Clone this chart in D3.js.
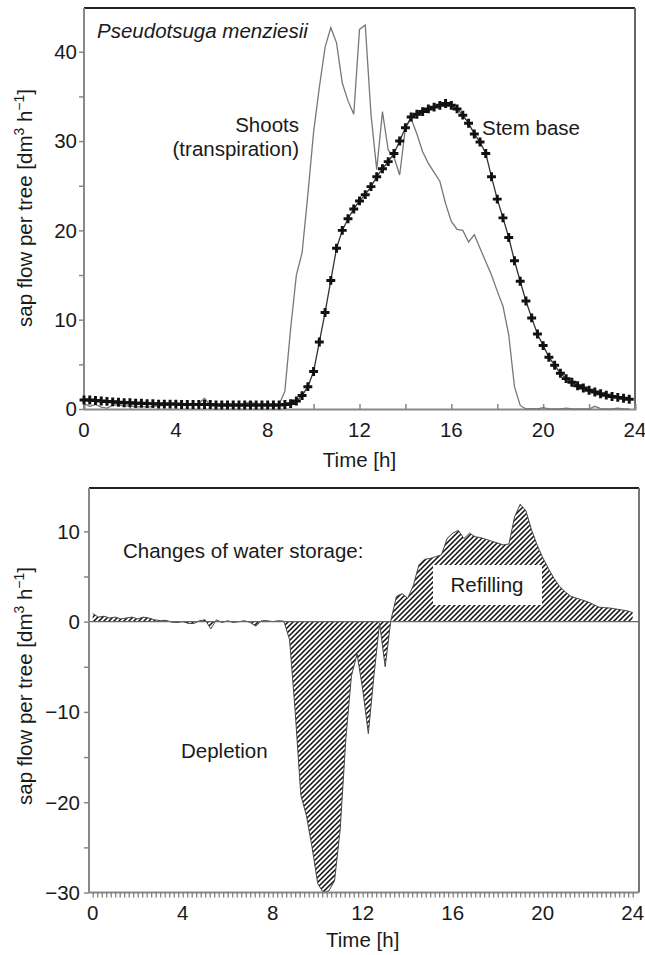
<!DOCTYPE html>
<html>
<head>
<meta charset="utf-8">
<script src="https://cdn.jsdelivr.net/npm/d3@7"></script>
<style>
  html, body { margin: 0; padding: 0; background: #fff; }
  svg text { font-family: "Liberation Sans", Arial, Helvetica, sans-serif; fill: #1a1a1a; }
</style>
</head>
<body>
<svg id="chart" width="645" height="955"></svg>
<script>
// ---------------- DATA ----------------
// sampling times (h), 15-min resolution
const timesH = [0,0.25,0.5,0.75,1,1.25,1.5,1.75,2,2.25,2.5,2.75,3,3.25,3.5,3.75,4,4.25,4.5,4.75,5,5.25,5.5,5.75,
  6,6.25,6.5,6.75,7,7.25,7.5,7.75,8,8.25,8.5,8.75,9,9.25,9.5,9.75,10,10.25,10.5,10.75,11,11.25,11.5,11.75,
  12,12.25,12.5,12.75,13,13.25,13.5,13.75,14,14.25,14.5,14.75,15,15.25,15.5,15.75,16,16.25,16.5,16.75,17,17.25,17.5,17.75,
  18,18.25,18.5,18.75,19,19.25,19.5,19.75,20,20.25,20.5,20.75,21,21.25,21.5,21.75,22,22.25,22.5,22.75,23,23.25,23.5,23.75,24];

// Shoots (transpiration), dm3 h-1 (values at timesH, up to 23.75 h)
const shootsFlow = [0.6,0.3,0.5,0.2,0.1,0.4,0.5,0.3,0.4,0.2,0.3,0.2,0.3,0.35,0.4,0.45,0.55,0.5,0.45,0.5,0.6,1.2,0.4,0.5,
  0.35,0.45,0.4,0.5,0.55,0.85,0.5,0.4,0.45,0.4,0.5,2.0,9.0,15.0,17.5,24.0,31.0,36.0,40.5,42.7,41.0,36.5,34.5,33.0,
  42.5,43.0,33.0,26.8,33.3,29.0,28.2,26.2,31.5,32.5,30.8,28.8,27.5,26.5,25.5,23.0,21.0,20.1,20.0,18.7,19.5,18.0,16.5,15.0,
  13.2,11.5,8.3,2.5,0.4,0.0,0.05,0.0,0.15,0.0,0.0,0.0,0.1,0.0,0.0,0.0,0.0,0.3,0.05,0.0,0.0,0.1,0.0,0.0];

// Stem base sap flow, dm3 h-1 (values at timesH, up to 23.75 h)
const stemBaseFlow = [1.0,1.0,0.95,0.9,0.85,0.8,0.75,0.7,0.7,0.65,0.65,0.6,0.6,0.55,0.55,0.55,0.55,0.5,0.5,0.5,0.5,0.5,0.5,0.45,
  0.45,0.45,0.45,0.45,0.45,0.45,0.45,0.45,0.45,0.45,0.45,0.5,0.6,0.9,1.5,2.5,4.2,7.5,10.8,14.4,18.0,20.0,21.3,22.4,
  23.3,24.0,24.9,26.0,26.9,27.7,28.6,30.0,31.5,32.7,33.0,33.3,33.6,33.8,34.0,34.2,34.0,33.6,32.9,32.0,30.8,29.9,28.6,26.0,
  23.5,21.4,19.2,16.6,14.3,12.1,10.2,8.4,7.1,5.8,4.9,4.0,3.4,3.0,2.6,2.35,2.1,1.9,1.7,1.55,1.4,1.3,1.2,1.1];

// Changes of water storage, dm3 h-1 (values at timesH, 0..24 h)
const storageChange = [0.9,0.5,0.6,0.4,0.5,0.3,0.4,0.5,0.3,0.5,0.4,0.2,0.1,0.15,-0.05,-0.1,0.0,-0.2,-0.2,0.1,0.2,-0.8,0.2,-0.1,
  0.1,-0.1,0.0,0.1,-0.1,-0.5,0.1,0.1,0.0,0.1,0.05,-2.0,-10.0,-19.2,-21.5,-25.0,-29.0,-30.0,-29.8,-28.7,-23.0,-13.0,-6.0,-3.6,
  -7.5,-12.4,-6.0,-0.2,-5.0,0.1,2.8,3.1,2.6,4.0,6.3,6.9,7.0,7.2,7.4,9.2,9.8,10.1,9.2,9.8,9.4,9.3,9.1,8.9,
  8.7,8.5,8.6,11.6,13.0,12.3,10.2,8.5,7.1,5.9,4.8,3.9,3.3,2.8,2.6,2.4,2.2,1.9,1.6,1.55,1.5,1.4,1.3,1.2,1.0];

const xTickLabels = [0, 4, 8, 12, 16, 20, 24];
const topYTickLabels = [0, 10, 20, 30, 40];
const bottomYTickLabels = [-30, -20, -10, 0, 10];

// ---------------- DRAW ----------------
const svg = d3.select("#chart");
const FS = 20.5;

const defs = svg.append("defs");
const pat = defs.append("pattern").attr("id", "hatch")
  .attr("patternUnits", "userSpaceOnUse").attr("width", 5).attr("height", 5);
pat.append("path").attr("d", "M-1,1 l2,-2 M0,5 l5,-5 M4,6 l2,-2")
  .attr("stroke", "#111").attr("stroke-width", 1.55);

function yLabel(g, cx, cy) {
  const t = g.append("text").attr("transform", `translate(${cx},${cy}) rotate(-90)`)
    .attr("text-anchor", "middle").attr("font-size", FS);
  t.append("tspan").text("sap flow per tree [dm");
  t.append("tspan").attr("font-size", FS * 0.68).attr("dy", -8).text("3");
  t.append("tspan").attr("dy", 8).text(" h");
  t.append("tspan").attr("font-size", FS * 0.68).attr("dy", -8).text("\u22121");
  t.append("tspan").attr("dy", 8).text("]");
}

// ===== TOP CHART =====
const gTop = svg.append("g");
const xT = d3.scaleLinear().domain([0, 24]).range([84, 635]);
const yT = d3.scaleLinear().domain([0, 44.9]).range([409, 8]);
const shootPts = shootsFlow.map((v, i) => [timesH[i], v]);
const stemPts = stemBaseFlow.map((v, i) => [timesH[i], v]);

// frame
gTop.append("line").attr("x1", xT(0)).attr("x2", xT(24)).attr("y1", yT(44.9)).attr("y2", yT(44.9))
  .attr("stroke", "#222").attr("stroke-width", 2);
gTop.append("line").attr("x1", xT(24)).attr("x2", xT(24)).attr("y1", yT(44.9)).attr("y2", yT(0))
  .attr("stroke", "#666").attr("stroke-width", 2);

// x axis (ticks inward every 2 h)
const xAxT = gTop.append("g").attr("transform", `translate(0,${yT(0)})`)
  .call(d3.axisBottom(xT).tickValues(d3.range(0, 25, 2)).tickSize(-5).tickFormat(""));
xAxT.select(".domain").attr("stroke", "#888").attr("stroke-width", 2);
xAxT.selectAll(".tick line").attr("stroke", "#888").attr("stroke-width", 1.5);
gTop.selectAll(".xtl").data(xTickLabels).join("text")
  .attr("x", d => xT(d)).attr("y", 437).attr("text-anchor", "middle").attr("font-size", FS).text(d => d);

// y axis
const yAxT = gTop.append("g").attr("transform", `translate(${xT(0)},0)`)
  .call(d3.axisLeft(yT).tickValues(d3.range(0, 41, 5)).tickSize(5).tickFormat(""));
yAxT.select(".domain").attr("stroke", "#888").attr("stroke-width", 2).attr("d", `M0,${yT(0)}V${yT(44.9)}`);
yAxT.selectAll(".tick line").attr("stroke", "#888").attr("stroke-width", 1.5);
gTop.selectAll(".ytl").data(topYTickLabels).join("text")
  .attr("x", 77).attr("y", d => yT(d)).attr("dy", "0.36em").attr("text-anchor", "end")
  .attr("font-size", FS).text(d => d);

// lines
const lineT = d3.line().x(d => xT(d[0])).y(d => yT(d[1]));
gTop.append("path").datum(shootPts).attr("d", lineT).attr("fill", "none")
  .attr("stroke", "#777").attr("stroke-width", 1.3);
gTop.append("path").datum(stemPts).attr("d", lineT).attr("fill", "none")
  .attr("stroke", "#333").attr("stroke-width", 1.3);
gTop.selectAll(".mk").data(stemPts).join("path")
  .attr("transform", d => `translate(${xT(d[0])},${yT(d[1])})`)
  .attr("d", d3.symbol(d3.symbolCross, 44)).attr("fill", "#111");

// texts
gTop.append("text").attr("x", 97).attr("y", 38).attr("font-size", FS).attr("font-style", "italic")
  .text("Pseudotsuga menziesii");
gTop.append("text").attr("x", 299).attr("y", 132).attr("text-anchor", "end").attr("font-size", FS).text("Shoots");
gTop.append("text").attr("x", 299).attr("y", 156).attr("text-anchor", "end").attr("font-size", FS).text("(transpiration)");
gTop.append("text").attr("x", 482).attr("y", 135).attr("font-size", FS).text("Stem base");
gTop.append("text").attr("x", (xT(0) + xT(24)) / 2).attr("y", 467).attr("text-anchor", "middle")
  .attr("font-size", FS).text("Time [h]");
yLabel(gTop, 32, 208);

// ===== BOTTOM CHART =====
const gBot = svg.append("g");
const xB = d3.scaleLinear().domain([0, 24]).range([92.7, 632.7]);
const yB = d3.scaleLinear().domain([-30, 14.8]).range([892.5, 488]);
const xL = xB.invert(89), xR = xB.invert(639);
const storPts = storageChange.map((v, i) => [timesH[i], v]);

// frame
gBot.append("line").attr("x1", xB(xL)).attr("x2", xB(xR)).attr("y1", yB(14.8)).attr("y2", yB(14.8))
  .attr("stroke", "#222").attr("stroke-width", 2);
gBot.append("line").attr("x1", xB(xR)).attr("x2", xB(xR)).attr("y1", yB(14.8)).attr("y2", yB(-30))
  .attr("stroke", "#777").attr("stroke-width", 2);

// hatched area
gBot.append("path").datum(storPts)
  .attr("d", d3.area().x(d => xB(d[0])).y0(yB(0)).y1(d => yB(d[1])))
  .attr("fill", "url(#hatch)").attr("stroke", "none");
gBot.append("path").datum(storPts)
  .attr("d", d3.line().x(d => xB(d[0])).y(d => yB(d[1])))
  .attr("fill", "none").attr("stroke", "#444").attr("stroke-width", 1);
// zero line
gBot.append("line").attr("x1", xB(xL)).attr("x2", xB(xR)).attr("y1", yB(0)).attr("y2", yB(0))
  .attr("stroke", "#666").attr("stroke-width", 1.3);

// x axis with dense ticks
const xAxB = gBot.append("g").attr("transform", `translate(0,${yB(-30)})`)
  .call(d3.axisBottom(xB).tickValues(d3.range(0, 24.01, 0.2)).tickSize(5).tickFormat(""));
xAxB.select(".domain").attr("stroke", "#888").attr("stroke-width", 2).attr("d", `M${xB(xL)},0H${xB(xR)}`);
xAxB.selectAll(".tick line").attr("stroke", "#777").attr("stroke-width", 1.2);
gBot.selectAll(".xtl").data(xTickLabels).join("text")
  .attr("x", d => xB(d)).attr("y", 920).attr("text-anchor", "middle").attr("font-size", FS).text(d => d);

// y axis
const yAxB = gBot.append("g").attr("transform", `translate(${xB(xL)},0)`)
  .call(d3.axisLeft(yB).tickValues(d3.range(-30, 11, 5)).tickSize(5).tickFormat(""));
yAxB.select(".domain").attr("stroke", "#888").attr("stroke-width", 2).attr("d", `M0,${yB(-30)}V${yB(14.8)}`);
yAxB.selectAll(".tick line").attr("stroke", "#888").attr("stroke-width", 1.5);
gBot.selectAll(".ytl").data(bottomYTickLabels).join("text")
  .attr("x", 80).attr("y", d => yB(d)).attr("dy", "0.36em").attr("text-anchor", "end")
  .attr("font-size", FS).text(d => d3.format("")(d));

// texts
gBot.append("text").attr("x", 123).attr("y", 558).attr("font-size", FS).text("Changes of water storage:");
gBot.append("rect").attr("x", 433).attr("y", 565).attr("width", 109).attr("height", 40).attr("fill", "#fff");
gBot.append("text").attr("x", 487).attr("y", 592).attr("text-anchor", "middle").attr("font-size", FS).text("Refilling");
gBot.append("text").attr("x", 181).attr("y", 758).attr("font-size", FS).text("Depletion");
gBot.append("text").attr("x", (xB(0) + xB(24)) / 2).attr("y", 947).attr("text-anchor", "middle")
  .attr("font-size", FS).text("Time [h]");
yLabel(gBot, 32, 686);
</script>
</body>
</html>
